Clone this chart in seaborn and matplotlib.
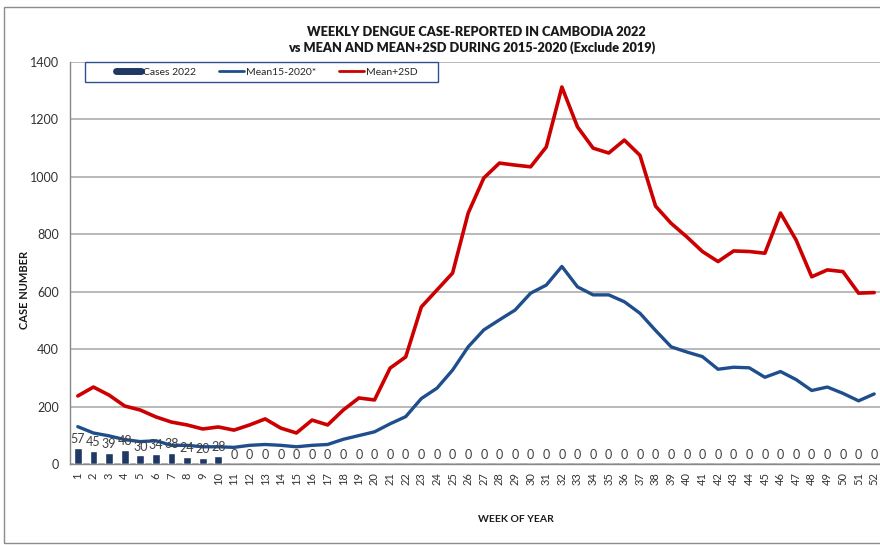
import matplotlib.pyplot as plt
import seaborn as sns
import pandas as pd
from matplotlib.lines import Line2D
from matplotlib.patches import Rectangle

# data
weeks = list(range(1, 53))
cases_2022 = [57, 45, 39, 48, 30, 34, 38, 24, 20, 28] + [0] * 42
mean_15_20 = [130, 108, 98, 85, 78, 81, 65, 65, 60, 60,
              58, 65, 68, 65, 60, 65, 68, 86, 99, 112,
              140, 165, 228, 264, 327, 408, 467, 502, 536, 595,
              623, 688, 617, 589, 589, 565, 525, 465, 408, 390,
              374, 330, 337, 335, 302, 322, 294, 256, 268, 246,
              220, 244]
mean_2sd = [237, 268, 240, 202, 188, 164, 146, 136, 122, 129,
            118, 136, 157, 125, 108, 153, 136, 188, 230, 223,
            334, 373, 547, 606, 665, 874, 996, 1048, 1041, 1035,
            1104, 1313, 1174, 1100, 1083, 1128, 1075, 898, 838, 791,
            740, 705, 742, 740, 734, 874, 780, 652, 676, 670,
            595, 597]
y_ticks = [0, 200, 400, 600, 800, 1000, 1200, 1400]

df = pd.DataFrame({'week': weeks, 'cases': cases_2022,
                   'mean': mean_15_20, 'mean2sd': mean_2sd})

BAR_C = '#1f3864'
BLUE = '#1f4e8c'
RED = '#cc0000'

sns.set_style('white')
plt.rcParams['font.family'] = ['Lato', 'DejaVu Sans']

fig = plt.figure(figsize=(8.8, 5.45), dpi=100)
ax = fig.add_axes([70 / 880, 1 - 464 / 545, 812 / 880, 402 / 545])

sns.barplot(data=df, x='week', y='cases', native_scale=True, width=0.5,
            color=BAR_C, saturation=1, ax=ax, zorder=2)
sns.lineplot(data=df, x='week', y='mean', color=BLUE, lw=2.4, ax=ax, zorder=3)
sns.lineplot(data=df, x='week', y='mean2sd', color=RED, lw=2.6, ax=ax, zorder=3)
for ln in ax.lines:
    ln.set_solid_joinstyle('round')
    ln.set_solid_capstyle('round')

labels = ax.bar_label(ax.containers[0], labels=[str(v) for v in cases_2022],
                      padding=2, fontsize=9, color='#404040')
for t in labels:
    t.set_zorder(5)

ax.set_xlim(0.5, 52.5)
ax.set_ylim(0, 1400)
ax.set_yticks(y_ticks)
ax.set_xticks(weeks)
ax.set_xticklabels([str(w) for w in weeks], rotation=90, fontsize=8, color='#333333')
ax.set_xticks([w + 0.5 for w in range(0, 53)], minor=True)
ax.tick_params(axis='x', which='major', length=0, pad=6)
ax.tick_params(axis='x', which='minor', length=4, color='#888888', width=0.8)
ax.tick_params(axis='y', length=4, color='#888888', labelsize=9, labelcolor='#333333', pad=4)
ax.grid(axis='y', color='#a6a6a6', lw=1.1, zorder=0)
ax.set_axisbelow(True)
for s in ['top', 'right']:
    ax.spines[s].set_visible(False)
for s in ['left', 'bottom']:
    ax.spines[s].set_color('#888888')
    ax.spines[s].set_linewidth(1)
ax.set_xlabel('')
ax.set_ylabel('')

fig.text(25 / 880, 1 - 290 / 545, 'CASE NUMBER', rotation=90, ha='center', va='center',
         fontsize=8, fontweight='bold', color='#1a1a1a')
fig.text(516 / 880, 1 - 519 / 545, 'WEEK OF YEAR', ha='center', va='center',
         fontsize=7.5, fontweight='bold', color='#1a1a1a')
fig.text(476 / 880, 1 - 32 / 545, 'WEEKLY DENGUE CASE-REPORTED IN CAMBODIA 2022',
         ha='center', va='center', fontsize=9.2, fontweight='heavy', color='#1a1a1a')
fig.text(472 / 880, 1 - 48 / 545, 'vs MEAN AND MEAN+2SD DURING 2015-2020 (Exclude 2019)',
         ha='center', va='center', fontsize=9.2, fontweight='heavy', color='#1a1a1a')

# legend frame, then the entries centred inside it
fig.patches.append(Rectangle((85 / 880, 1 - 82 / 545), 353 / 880, 20 / 545,
                             transform=fig.transFigure, fill=False,
                             edgecolor='#2f4f8f', lw=1, zorder=6))
handles = [Line2D([], [], color=BAR_C, lw=5),
           Line2D([], [], color=BLUE, lw=2),
           Line2D([], [], color=RED, lw=2)]
fig.legend(handles, ['Cases 2022', 'Mean15-2020*', 'Mean+2SD'], ncol=3,
           loc='center', bbox_to_anchor=(267 / 880, 1 - 72 / 545),
           bbox_transform=fig.transFigure, fontsize=7.5, frameon=False,
           handlelength=2.4, handletextpad=0.2, columnspacing=2.2)

fig.patches.append(Rectangle((4 / 880, 2 / 545), 1.2, 536 / 545, transform=fig.transFigure,
                             fill=False, edgecolor='#8c8c8c', lw=1))

fig.savefig('out.png', dpi=100)
